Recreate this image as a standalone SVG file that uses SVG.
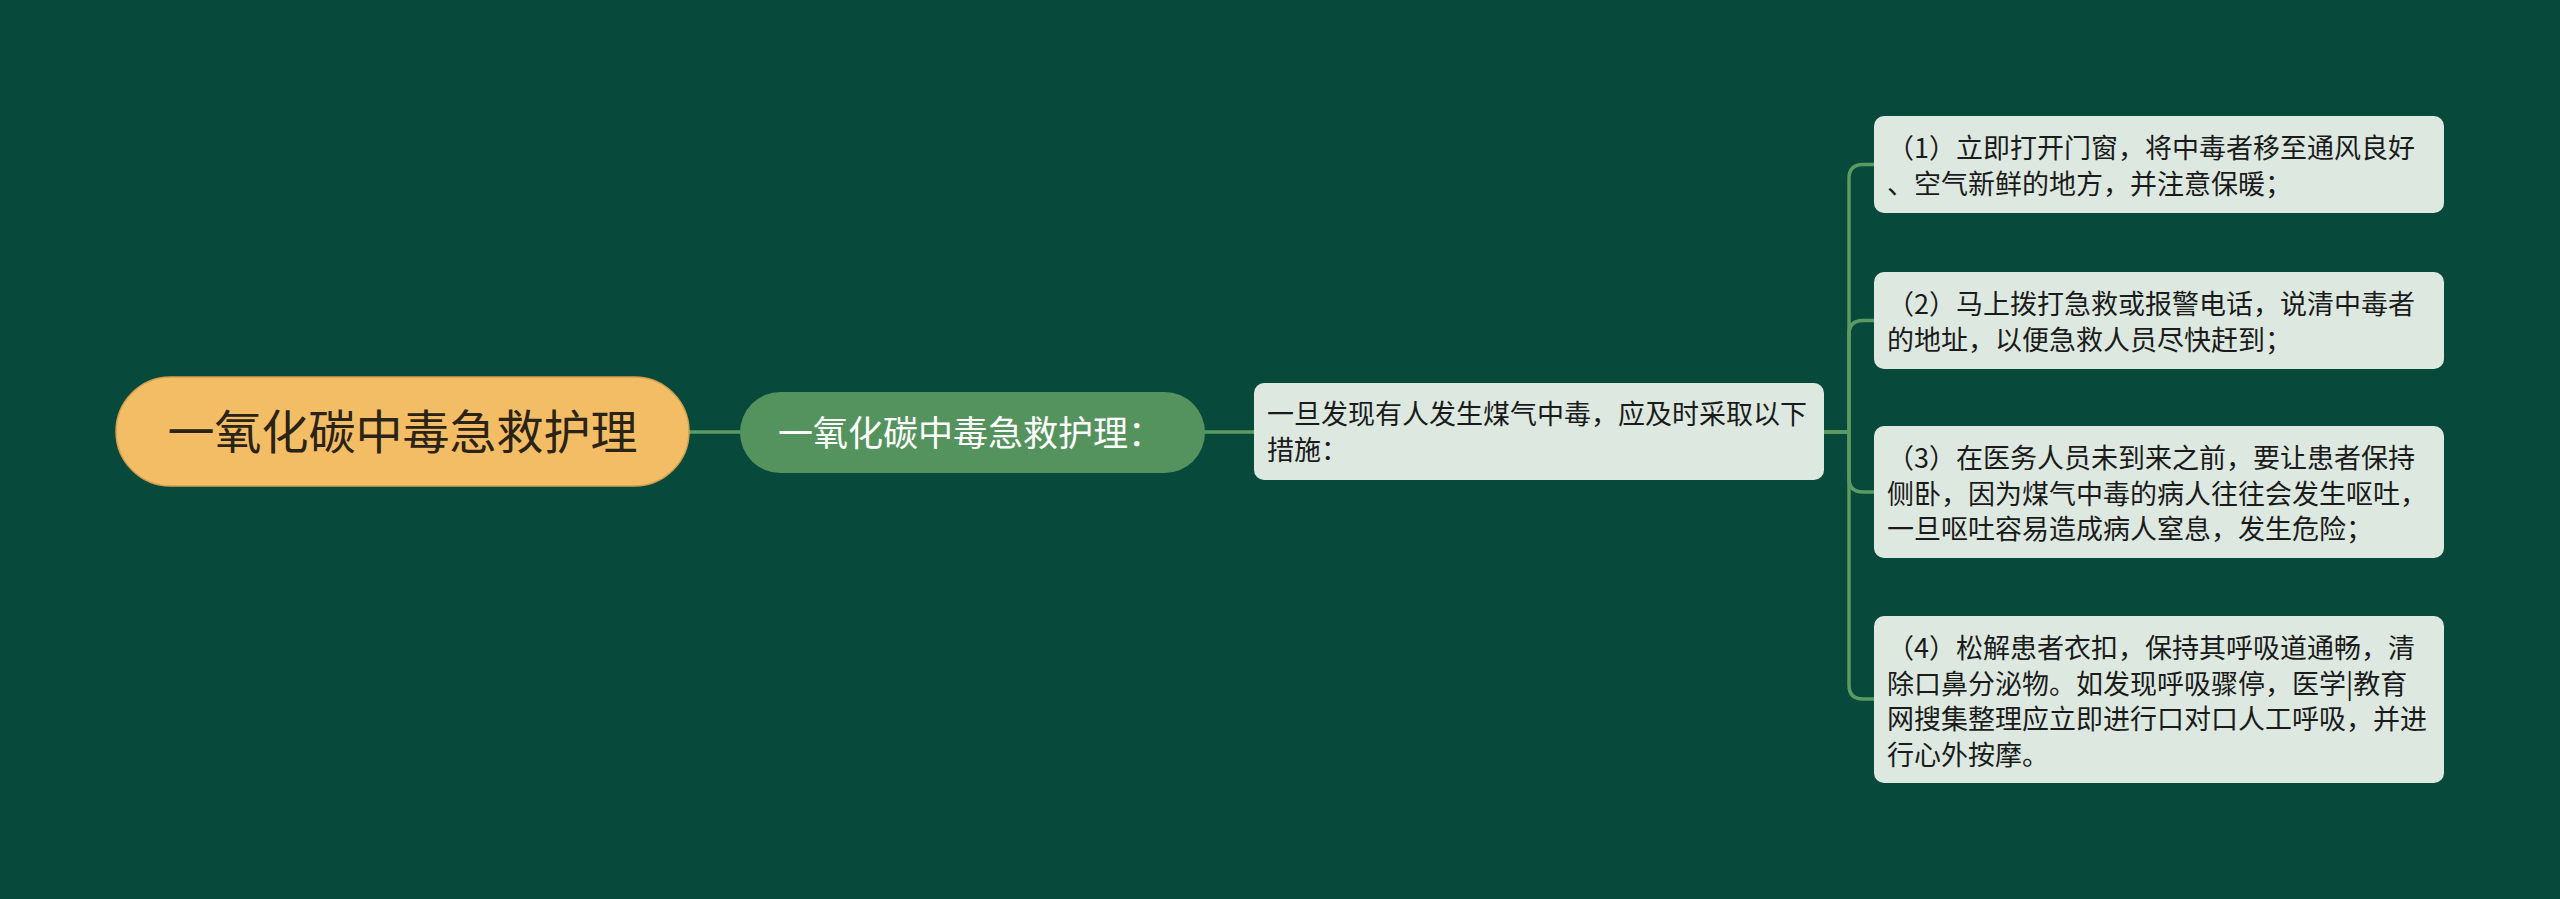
<svg xmlns="http://www.w3.org/2000/svg" width="2560" height="899" viewBox="0 0 2560 899">
<style>
.t{font-family:"Noto Sans CJK SC","Noto Sans",sans-serif}
.leaf rect{fill:#dde9e0}
.leaf text{font-size:27px;fill:#1b1b1b}
.conn{fill:none;stroke:#5b9b63;stroke-width:3.5;stroke-linecap:round}
</style>
<rect x="0" y="0" width="2560" height="899" fill="#07493a"/>
<g id="connectors">
<path class="conn" d="M689,432 H740" stroke-width="4.5"/>
<path class="conn" d="M1205,432 H1254" stroke-width="4.5"/>
<path class="conn" d="M1824,432 H1849 V178.5 Q1849,164.5 1863,164.5 H1874"/>
<path class="conn" d="M1824,432 H1849 V334.5 Q1849,320.5 1863,320.5 H1874"/>
<path class="conn" d="M1824,432 H1849 V478 Q1849,492 1863,492 H1874"/>
<path class="conn" d="M1824,432 H1849 V685 Q1849,699 1863,699 H1874"/>
</g>
<g id="root">
<rect x="116" y="377" width="573" height="109" rx="54.5" fill="#f2bd65" stroke="#d6a14e" stroke-width="1.5"/>
<text class="t" x="402.5" y="448.5" text-anchor="middle" font-size="47" fill="#2b2316">一氧化碳中毒急救护理</text>
</g>
<g id="n2">
<rect x="740" y="392" width="465" height="81" rx="40.5" fill="#55935e"/>
<text class="t" x="778" y="445.5" font-size="35" fill="#ffffff">一氧化碳中毒急救护理：</text>
</g>
<g id="n3" class="leaf">
<rect x="1254" y="383" width="570" height="97" rx="10"/>
<text class="t" x="1267"><tspan x="1267" y="424">一旦发现有人发生煤气中毒，应及时采取以下</tspan><tspan x="1267" y="459.5">措施：</tspan></text>
</g>
<g id="leaf1" class="leaf">
<rect x="1874" y="116" width="570" height="97" rx="10"/>
<text class="t"><tspan x="1887" y="158">（1）立即打开门窗，将中毒者移至通风良好</tspan><tspan x="1887" y="193.5">、空气新鲜的地方，并注意保暖；</tspan></text>
</g>
<g id="leaf2" class="leaf">
<rect x="1874" y="272" width="570" height="97" rx="10"/>
<text class="t"><tspan x="1887" y="314">（2）马上拨打急救或报警电话，说清中毒者</tspan><tspan x="1887" y="349.5">的地址，以便急救人员尽快赶到；</tspan></text>
</g>
<g id="leaf3" class="leaf">
<rect x="1874" y="426" width="570" height="132" rx="10"/>
<text class="t"><tspan x="1887" y="468">（3）在医务人员未到来之前，要让患者保持</tspan><tspan x="1887" y="503.5">侧卧，因为煤气中毒的病人往往会发生呕吐，</tspan><tspan x="1887" y="539">一旦呕吐容易造成病人窒息，发生危险；</tspan></text>
</g>
<g id="leaf4" class="leaf">
<rect x="1874" y="616" width="570" height="167" rx="10"/>
<text class="t"><tspan x="1887" y="658">（4）松解患者衣扣，保持其呼吸道通畅，清</tspan><tspan x="1887" y="693.5">除口鼻分泌物。如发现呼吸骤停，医学|教育</tspan><tspan x="1887" y="729">网搜集整理应立即进行口对口人工呼吸，并进</tspan><tspan x="1887" y="764.5">行心外按摩。</tspan></text>
</g>
</svg>
